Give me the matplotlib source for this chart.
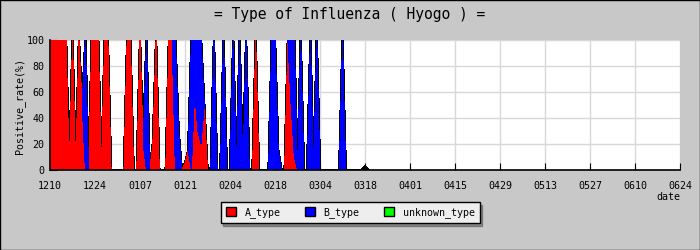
import matplotlib
matplotlib.use('Agg')
import matplotlib.pyplot as plt
from matplotlib.patches import Patch, Rectangle
import numpy as np

plt.rcParams['font.family'] = 'DejaVu Sans Mono'
plt.rcParams['font.size'] = 7.2

# 1210 = day 0, one value per day
a_type = [100, 100, 100, 100, 100, 100, 0, 100, 0, 100,
          50, 0, 0, 100, 100, 100, 0, 100, 100, 0,
          0, 0, 0, 0, 100, 100, 0, 0, 100, 20,
          0, 0, 20, 100, 0, 0, 0, 100, 100, 0,
          0, 0, 5, 15, 0, 60, 30, 20, 50, 0,
          0, 0, 0, 0, 0, 0, 0, 0, 0, 0,
          0, 0, 0, 0, 100, 0, 0, 0, 0, 0,
          0, 0, 0, 0, 100, 50, 10, 0, 0, 0,
          0, 0, 0, 0, 0, 0, 0, 0, 0, 0,
          0, 0, 0, 0, 0, 0, 0, 0, 0, 0]
b_type = [0, 0, 0, 0, 0, 0, 0, 0, 0, 0,
          0, 100, 0, 0, 0, 0, 0, 0, 0, 0,
          0, 0, 0, 0, 0, 0, 0, 0, 0, 0,
          100, 0, 0, 0, 0, 0, 0, 0, 0, 100,
          30, 0, 0, 0, 100, 40, 70, 80, 0, 0,
          0, 100, 0, 0, 100, 0, 0, 100, 0, 100,
          0, 100, 0, 0, 0, 0, 0, 0, 0, 100,
          100, 15, 0, 0, 0, 50, 90, 0, 100, 0,
          0, 100, 0, 100, 0, 0, 0, 0, 0, 0,
          0, 100, 0, 0, 0, 0, 0, 0, 0, 0]
unknown_type = [0] * 98 + [3, 0]

tick_labels = ['1210', '1224', '0107', '0121', '0204', '0218', '0304', '0318',
               '0401', '0415', '0429', '0513', '0527', '0610', '0624']

days = np.arange(len(a_type))
a = np.array(a_type, dtype=float)
b = np.array(b_type, dtype=float)
u = np.array(unknown_type, dtype=float)

fig = plt.figure(figsize=(7, 2.5), dpi=100, facecolor='#c8c8c8')
ax = fig.add_axes([50/700, 80/250, 630/700, 130/250])
ax.set_facecolor('white')

# 輪郭線を先に描いて塗りで覆う（先端と縁だけ黒が見える）
ax.plot(days, a, color='black', lw=1.1, antialiased=False, zorder=2)
ax.plot(days, a + b, color='black', lw=1.1, antialiased=False, zorder=2)
ax.plot(days, a + b + u, color='black', lw=1.1, antialiased=False, zorder=2)
ax.fill_between(days, 0, a, facecolor='#ff0000', edgecolor='none', antialiased=False, zorder=3)
ax.fill_between(days, a, a + b, facecolor='#0000ff', edgecolor='none', antialiased=False, zorder=3)
ax.fill_between(days, a + b, a + b + u, facecolor='#00ff00', edgecolor='none', antialiased=False, zorder=1)

ax.set_xlim(0, 196)
ax.set_ylim(0, 100)
ax.set_xticks(np.arange(0, 197, 14))
ax.set_xticklabels(tick_labels)
ax.set_yticks(np.arange(0, 101, 20))
ax.set_yticks(np.arange(0, 101, 10), minor=True)
ax.tick_params(axis='x', direction='in', length=5, pad=8, color='black')
ax.tick_params(axis='y', which='major', direction='in', length=5, pad=4)
ax.tick_params(axis='y', which='minor', direction='in', length=3)
ax.grid(True, color='#d8d8d8', lw=1, zorder=0)
ax.set_axisbelow(True)
for s in ['top', 'right']:
    ax.spines[s].set_visible(False)
ax.spines['left'].set_linewidth(1.2)
ax.spines['bottom'].set_linewidth(1.2)
ax.spines['left'].set_zorder(4)
ax.spines['bottom'].set_zorder(4)

fig.text(0.5, 1 - 14/250, '= Type of Influenza ( Hyogo ) =', ha='center', va='center', fontsize=10.5)
fig.text(20/700, 1 - 106/250, 'Positive_rate(%)', rotation=90, ha='center', va='center')
fig.text(680/700, 1 - 197/250, 'date', ha='right', va='center')

handles = [Patch(facecolor='#ff0000', edgecolor='black', label='A_type'),
           Patch(facecolor='#0000ff', edgecolor='black', label='B_type'),
           Patch(facecolor='#00ff00', edgecolor='black', label='unknown_type')]
fig.legend(handles=handles, loc='center', bbox_to_anchor=(350/700, 1 - 212.5/250), ncol=3,
           fancybox=False, shadow=True, edgecolor='black', facecolor='#eeeeee', framealpha=1,
           handlelength=1.0, handleheight=1.0, columnspacing=2.4, handletextpad=0.9,
           borderpad=0.5)

fig.patches.append(Rectangle((0, 0), 1, 1, transform=fig.transFigure, fill=False,
                             edgecolor='black', lw=1))

fig.savefig('out.png', dpi=100, facecolor=fig.get_facecolor())
